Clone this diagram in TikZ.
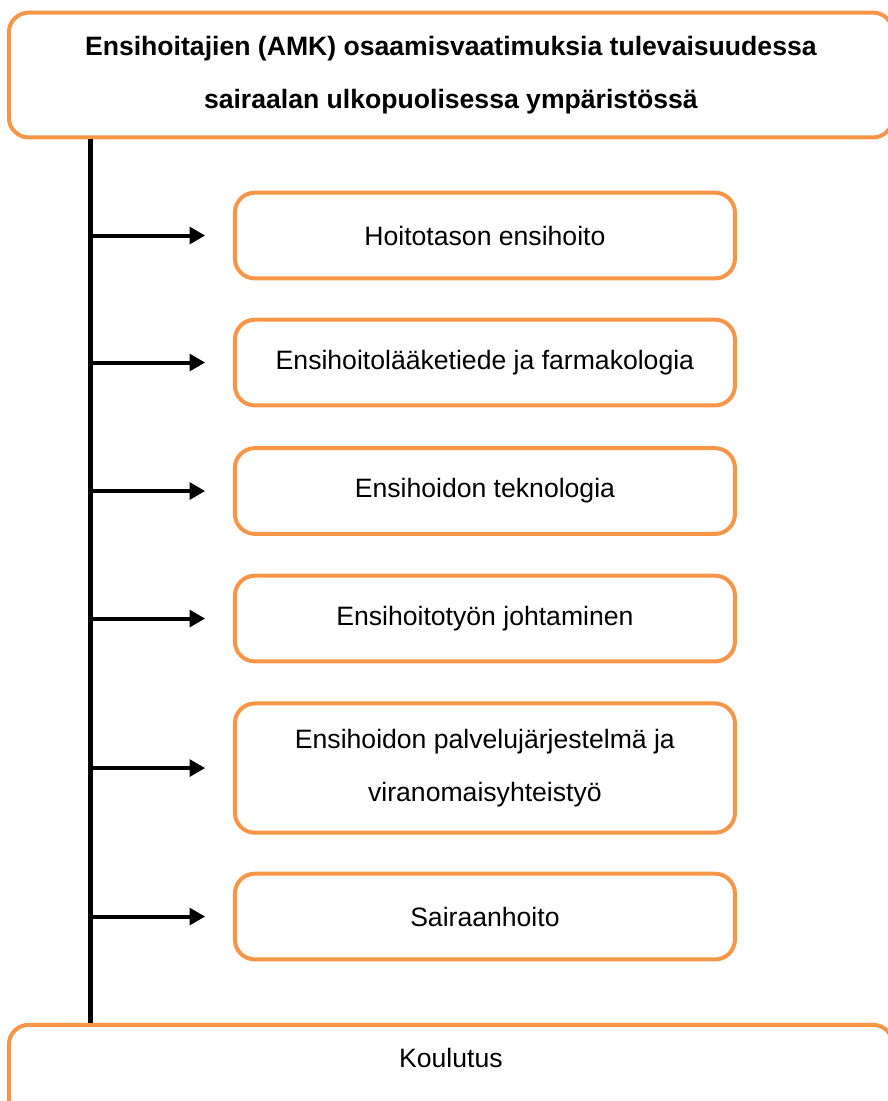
\documentclass[tikz,border=0pt]{standalone}
\usepackage{fontspec}
\setmainfont{Liberation Sans}
\usetikzlibrary{arrows.meta}
\definecolor{oranssi}{RGB}{247,150,70}
\tikzset{
  laatikko/.style={draw=oranssi, line width=1.8pt, rounded corners=9pt,
    fill=white, align=center, font=\fontsize{12}{24}\selectfont},
  alue/.style={laatikko, minimum width=7.93cm, minimum height=1.36cm},
  nuoli/.style={line width=1.8pt, -{Triangle[length=7pt,width=7.5pt]}}
}
\begin{document}
\begin{tikzpicture}

\useasboundingbox (0,0) rectangle (14.07,-17.46);

% Otsikko
\node[laatikko, minimum width=14.02cm, minimum height=1.98cm, font=\bfseries\fontsize{12}{24}\selectfont]
 (otsikko) at (7.15,-1.19)
 {Ensihoitajien (AMK) osaamisvaatimuksia tulevaisuudessa\\ sairaalan ulkopuolisessa ympäristössä};

% Osaamisalueet
\node[alue] (hoito) at (7.69,-3.735) {Hoitotason ensihoito};
\node[alue] (laake) at (7.69,-5.749) {Ensihoitolääketiede ja farmakologia};
\node[alue] (tekno) at (7.69,-7.787) {Ensihoidon teknologia};
\node[alue] (johto) at (7.69,-9.809) {Ensihoitotyön johtaminen};
\node[alue, minimum height=2.05cm] (palvelu) at (7.69,-12.18)
 {Ensihoidon palvelujärjestelmä ja\\ viranomaisyhteistyö};
\node[alue] (sairaan) at (7.69,-14.535) {Sairaanhoito};

% Koulutus
\node[laatikko, anchor=north, minimum width=14.02cm, inner ysep=0pt,
 text height=0.68cm, text depth=1.2cm] (koulutus) at (7.15,-16.22) {Koulutus};

% Runko ja nuolet
\coordinate (runko) at (1.43,0);
\draw[line width=2.2pt] (otsikko.south -| runko) -- (koulutus.north -| runko);
\foreach \a in {hoito,laake,tekno,johto,palvelu,sairaan}
  \draw[nuoli] (runko |- \a.west) -- ([xshift=-0.44cm]\a.west);

\end{tikzpicture}
\end{document}
